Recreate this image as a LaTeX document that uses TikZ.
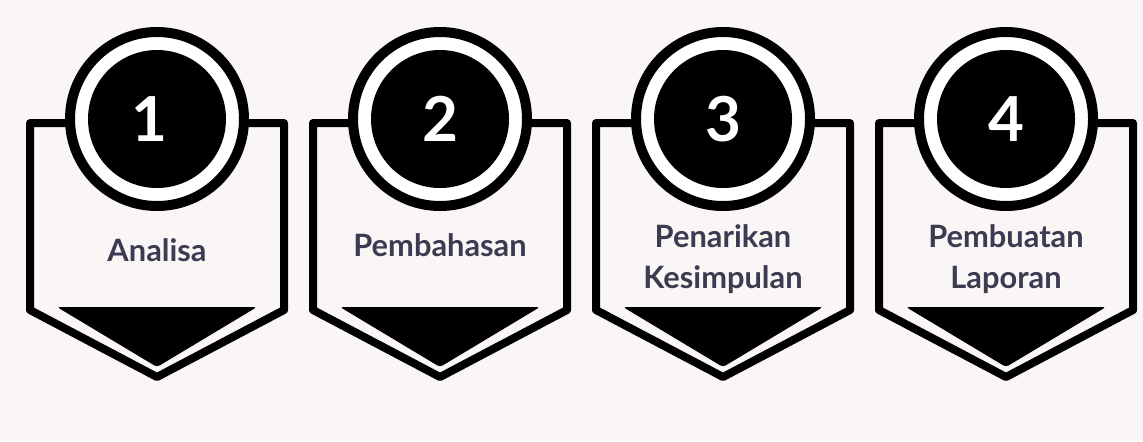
\documentclass[tikz,border=0pt]{standalone}
\usepackage{fontspec}
\setmainfont{Lato}
\definecolor{PageBackground}{HTML}{FBF6F6}
\definecolor{StepText}{HTML}{3B3B52}
\tikzset{
    badge outline/.style={line width=4pt, line join=round, fill=PageBackground},
    badge arrow/.style={fill=black, rounded corners=1.5pt},
    number ring/.style={line width=5pt, fill=white},
    number label/.style={text=white, font=\fontsize{31}{31}\selectfont\bfseries, inner sep=0pt},
    step label/.style={text=StepText, font=\fontsize{15.4}{20.5}\selectfont\bfseries, align=center, inner sep=0pt}
}

\begin{document}
\begin{tikzpicture}[x=0.5pt, y=-0.5pt]

    \useasboundingbox[fill=PageBackground] (0,0) rectangle (1143,441);

    % Paso 1

    \coordinate (stepOneCenter) at (157, 119);
    \draw[badge outline] (stepOneCenter) ++(-127,4) -- ++(254,0) -- ++(0,187) -- ++(-127,67) -- ++(-127,-67) -- cycle;
    \path[badge arrow] (stepOneCenter) ++(-100,188) -- ++(200,0) -- ++(-100,60) -- cycle;
    \draw[number ring] (stepOneCenter) circle[radius=43.5pt];
    \fill (stepOneCenter) circle[radius=34.5pt];
    \node[number label, xshift=-4pt] (stepOneNumber) at (stepOneCenter) {1};
    \node[step label] (stepOneLabel) at (157, 250) {Analisa};

    % Paso 2

    \coordinate (stepTwoCenter) at (440, 119);
    \draw[badge outline] (stepTwoCenter) ++(-127,4) -- ++(254,0) -- ++(0,187) -- ++(-127,67) -- ++(-127,-67) -- cycle;
    \path[badge arrow] (stepTwoCenter) ++(-100,188) -- ++(200,0) -- ++(-100,60) -- cycle;
    \draw[number ring] (stepTwoCenter) circle[radius=43.5pt];
    \fill (stepTwoCenter) circle[radius=34.5pt];
    \node[number label] (stepTwoNumber) at (stepTwoCenter) {2};
    \node[step label] (stepTwoLabel) at (440, 245) {Pembahasan};

    % Paso 3

    \coordinate (stepThreeCenter) at (723, 119);
    \draw[badge outline] (stepThreeCenter) ++(-127,4) -- ++(254,0) -- ++(0,187) -- ++(-127,67) -- ++(-127,-67) -- cycle;
    \path[badge arrow] (stepThreeCenter) ++(-100,188) -- ++(200,0) -- ++(-100,60) -- cycle;
    \draw[number ring] (stepThreeCenter) circle[radius=43.5pt];
    \fill (stepThreeCenter) circle[radius=34.5pt];
    \node[number label] (stepThreeNumber) at (stepThreeCenter) {3};
    \node[step label] (stepThreeLabel) at (723, 259) {Penarikan\\Kesimpulan};

    % Paso 4

    \coordinate (stepFourCenter) at (1006, 119);
    \draw[badge outline] (stepFourCenter) ++(-127,4) -- ++(254,0) -- ++(0,187) -- ++(-127,67) -- ++(-127,-67) -- cycle;
    \path[badge arrow] (stepFourCenter) ++(-100,188) -- ++(200,0) -- ++(-100,60) -- cycle;
    \draw[number ring] (stepFourCenter) circle[radius=43.5pt];
    \fill (stepFourCenter) circle[radius=34.5pt];
    \node[number label] (stepFourNumber) at (stepFourCenter) {4};
    \node[step label] (stepFourLabel) at (1006, 259) {Pembuatan\\Laporan};

\end{tikzpicture}
\end{document}
